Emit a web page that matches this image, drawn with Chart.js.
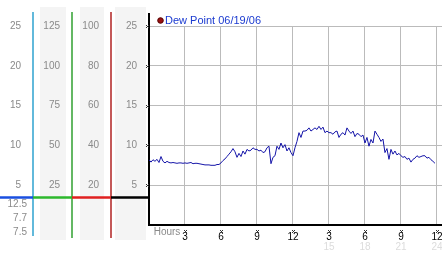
<!DOCTYPE html>
<html>
<head>
<meta charset="utf-8">
<script src="https://cdn.jsdelivr.net/npm/chart.js@4"></script>
<style>
    body { margin: 0; background: #fff; }
    #wrap { width: 442px; height: 253px; }
</style>
</head>
<body>
<div id="wrap"><canvas id="dew-chart" width="442" height="253"></canvas></div>
<script>
(function () {
    "use strict";

    // Data
    const sampleMinutes = 10;
    const dewPoint = [
        8.2, 7.9, 8.2, 8.0, 8.25, 7.85,
        8.6, 8.0, 7.8, 8.0, 7.85, 7.8,
        7.85, 7.8, 7.75, 7.8, 7.8, 7.75,
        7.8, 7.75, 7.8, 7.85, 7.7, 7.75,
        7.75, 7.7, 7.65, 7.6, 7.55, 7.55,
        7.55, 7.5, 7.5, 7.5, 7.6, 7.6,
        7.8, 8.1, 8.3, 8.6, 8.9, 9.2,
        9.6, 9.2, 8.5, 9.0, 8.6, 9.3,
        8.9, 9.5, 9.3, 9.4, 9.7, 9.5,
        9.5, 9.3, 9.4, 9.1, 9.2, 9.7,
        9.9, 7.7, 8.5, 8.7, 9.9, 9.5,
        10.3, 9.7, 10.1, 9.3, 9.7, 9.1,
        8.7, 9.7, 10.5, 11.6, 11.0, 11.8,
        11.8, 11.9, 12.2, 11.8, 12.0, 12.2,
        12.0, 12.4, 12.0, 12.3, 11.6, 11.8,
        11.6, 11.6, 11.4, 11.7, 11.8, 11.0,
        11.4, 11.6, 11.3, 12.2, 11.8, 11.5,
        11.8, 11.1, 11.5, 11.4, 11.1, 11.3,
        10.3, 11.0, 9.9, 10.75, 10.3, 11.8,
        11.4, 11.0, 10.5, 10.8, 9.1, 9.6,
        8.25, 9.5, 8.9, 9.3, 8.8, 9.0,
        8.7, 8.5, 8.6, 8.25, 8.4, 7.9,
        8.25, 8.4, 8.7, 8.5, 8.6, 8.7,
        8.7, 8.4, 8.5, 8.2, 8.0, 7.75,
    ];
    const hourTicks = [3, 6, 9, 12, 15, 18, 21, 24];
    const hourLabels = ["3", "6", "9", "12", "3", "6", "9", "12"];
    const dayHourTicks = [15, 18, 21, 24];
    const dayHourLabels = ["15", "18", "21", "24"];
    const levelTicks = [5, 10, 15, 20, 25];
    const col1Labels = ["5", "10", "15", "20", "25"];
    const col2Labels = ["25", "50", "75", "100", "125"];
    const col3Labels = ["20", "40", "60", "80", "100"];
    const dewLabels = ["5", "10", "15", "20", "25"];
    const lowerReadings = ["12.5", "7.7", "7.5"];
    const currentLevel = 3.5;

    const font = { family: "'Liberation Sans', Arial, sans-serif", size: 10 };
    const gray = "#8a8a8a";

    // one left column per unit, outermost first
    function columnAxis(labels, weight, width) {
        return {
            position: "left",
            weight: weight,
            min: 0,
            max: 25,
            afterBuildTicks: (s) => {
                s.ticks = levelTicks.map((v) => ({ value: v }));
            },
            afterFit: (s) => {
                s.width = width;
            },
            ticks: {
                padding: 12,
                color: gray,
                font: font,
                callback: (value, index) => labels[index],
            },
            grid: { display: false, drawTicks: false },
            border: { display: false },
        };
    }

    const scales = {
        x: {
            type: "linear",
            position: "bottom",
            weight: 0,
            min: 0,
            max: 24.42,
            afterBuildTicks: (s) => {
                s.ticks = hourTicks.map((v) => ({ value: v }));
            },
            afterFit: (s) => {
                s.height = 15;
                s.paddingLeft = 0;
                s.paddingRight = 0;
            },
            ticks: {
                padding: 6,
                color: "#000",
                font: font,
                maxRotation: 0,
                autoSkip: false,
                callback: (value, index) => hourLabels[index],
            },
            grid: { color: "#bbbbbb", drawTicks: false },
            border: { color: "#000", width: 2 },
        },
        x2: {
            type: "linear",
            position: "bottom",
            weight: 1,
            min: 0,
            max: 24.42,
            afterBuildTicks: (s) => {
                s.ticks = dayHourTicks.map((v) => ({ value: v }));
            },
            afterFit: (s) => {
                s.height = 13;
                s.paddingLeft = 0;
                s.paddingRight = 0;
            },
            ticks: {
                padding: 1,
                color: "#dcdcdc",
                font: font,
                maxRotation: 0,
                autoSkip: false,
                callback: (value, index) => dayHourLabels[index],
            },
            grid: { display: false, drawTicks: false },
            border: { display: false },
        },
        y: Object.assign(columnAxis(dewLabels, 0, 38), {
            grid: { color: "#bbbbbb", drawTicks: false },
            border: { color: "#000", width: 2 },
        }),
        yC: columnAxis(col3Labels, 1, 39),
        yB: columnAxis(col2Labels, 2, 39),
        yA: columnAxis(col1Labels, 3, 33),
    };

    function tickMark(ctx, x, y) {
        ctx.fillStyle = "#333";
        ctx.fillRect(x - 1, y - 1, 1, 1);
        ctx.fillRect(x + 1, y - 1, 1, 1);
        ctx.fillRect(x, y, 1, 1);
        ctx.fillRect(x - 1, y + 1, 1, 1);
        ctx.fillRect(x + 1, y + 1, 1, 1);
    }

    const panels = {
        id: "panels",
        beforeDraw(chart) {
            const ctx = chart.ctx;
            ctx.save();
            ctx.fillStyle = "#f4f4f4";
            [["yB", 7, 6], ["yC", 8, 7], ["y", 4, 3]].forEach(([id, l, r]) => {
                const s = chart.scales[id];
                ctx.fillRect(s.left + l, 7, s.right - r - s.left - l, 233);
            });
            ctx.restore();
        },
        afterDraw(chart) {
            const ctx = chart.ctx;
            const y = chart.scales.y;
            const x = chart.scales.x;
            const area = chart.chartArea;
            ctx.save();

            // column borders
            ctx.lineWidth = 1.5;
            [["yA", "#2ea2cf", 236], ["yB", "#30a030", 238], ["yC", "#b02222", 238]].forEach(([id, c, b]) => {
                const s = chart.scales[id];
                ctx.strokeStyle = c;
                ctx.beginPath();
                ctx.moveTo(s.right, 12);
                ctx.lineTo(s.right, b);
                ctx.stroke();
            });
            ctx.lineWidth = 2;
            ctx.strokeStyle = "#000";
            ctx.beginPath();
            ctx.moveTo(y.right, 13);
            ctx.lineTo(y.right, area.top);
            ctx.stroke();

            // current level across the unit columns
            const ly = Math.round(y.getPixelForValue(currentLevel)) + 0.5;
            ctx.lineWidth = 2.5;
            [["yA", "#1a4fe0"], ["yB", "#2db82d"], ["yC", "#e02020"], ["y", "#000"]].forEach(([id, c]) => {
                const s = chart.scales[id];
                ctx.strokeStyle = c;
                ctx.beginPath();
                ctx.moveTo(s.left, ly);
                ctx.lineTo(s.right, ly);
                ctx.stroke();
            });

            ctx.font = "10px 'Liberation Sans', Arial, sans-serif";
            ctx.fillStyle = gray;
            ctx.textAlign = "right";
            ctx.textBaseline = "middle";
            lowerReadings.forEach((t, i) => {
                ctx.fillText(t, chart.scales.yA.right - 6, ly + 7 + i * 14);
            });

            // tick marks
            y.ticks.forEach((t) => tickMark(ctx, y.right - 2, Math.round(y.getPixelForValue(t.value))));
            x.ticks.forEach((t) => tickMark(ctx, Math.round(x.getPixelForValue(t.value)), x.top + 6));

            ctx.textAlign = "center";
            ctx.fillStyle = gray;
            ctx.fillText("Hours", x.getPixelForValue(1.5), x.top + 7);

            // legend
            const ds = chart.data.datasets[0];
            ctx.fillStyle = "#991111";
            ctx.strokeStyle = "#550000";
            ctx.lineWidth = 1;
            ctx.beginPath();
            ctx.arc(area.left + 11.5, 20.5, 2.8, 0, Math.PI * 2);
            ctx.fill();
            ctx.stroke();
            ctx.font = "11px 'Liberation Sans', Arial, sans-serif";
            ctx.fillStyle = "#1a3ad0";
            ctx.textAlign = "left";
            ctx.fillText(ds.label, area.left + 16, 21);
            ctx.restore();
        },
    };

    new Chart(document.getElementById("dew-chart"), {
        type: "line",
        data: {
            datasets: [
                {
                    label: "Dew Point 06/19/06",
                    data: dewPoint.map((v, i) => ({ x: (i * sampleMinutes) / 60, y: v })),
                    borderColor: "#1414a8",
                    borderWidth: 1,
                    pointRadius: 0,
                    tension: 0,
                    xAxisID: "x",
                    yAxisID: "y",
                },
            ],
        },
        options: {
            responsive: false,
            animation: false,
            devicePixelRatio: 1,
            layout: { padding: { top: 26, left: 0, right: 0, bottom: 0 } },
            plugins: {
                legend: { display: false },
                tooltip: { enabled: false },
            },
            scales: scales,
        },
        plugins: [panels],
    });
})();
</script>
</body>
</html>
